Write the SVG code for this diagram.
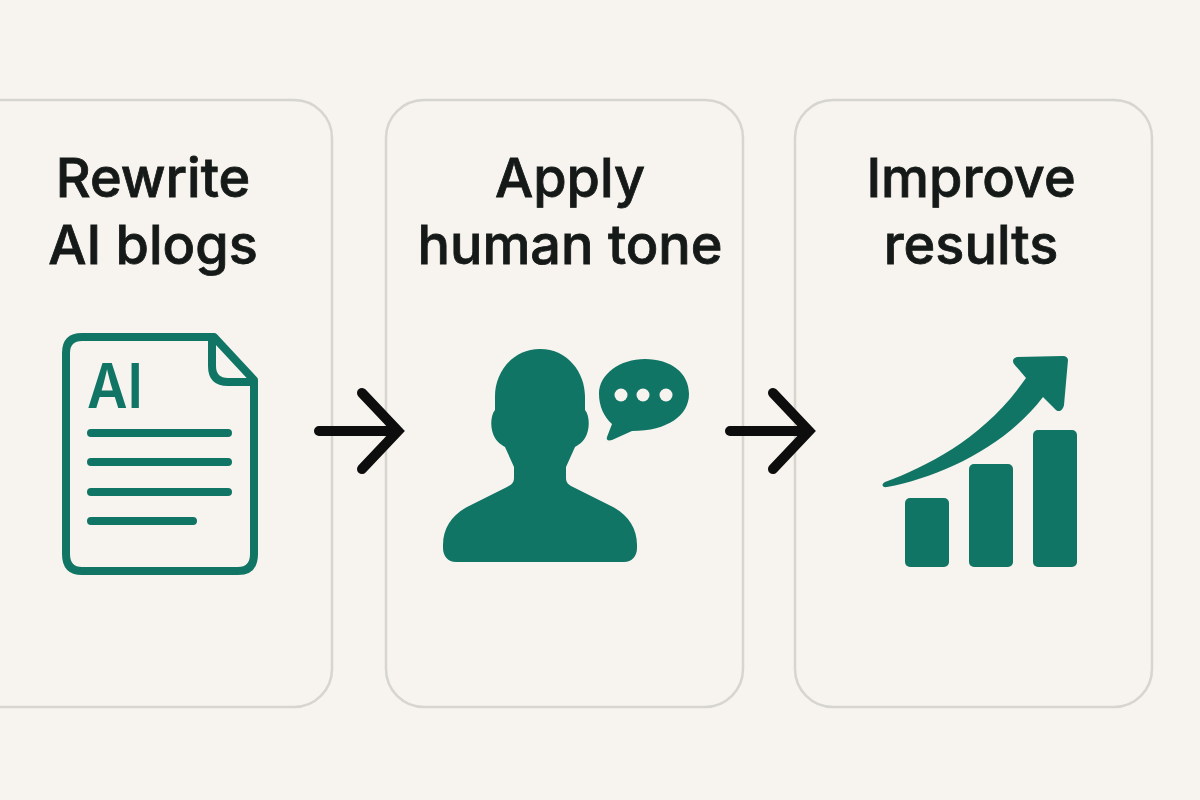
<svg xmlns="http://www.w3.org/2000/svg" width="1200" height="800" viewBox="0 0 1200 800">
<style>
.card{fill:none;stroke:#d6d5d0;stroke-width:2.5}
.t{font-family:Inter,"Liberation Sans",sans-serif;font-size:54px;font-weight:500;fill:#151a18;stroke:#151a18;stroke-width:.8;text-anchor:middle}
.g{fill:#117565}
.ol{fill:none;stroke:#117565;stroke-width:8;stroke-linecap:round;stroke-linejoin:round}
.ar{fill:none;stroke:#0d0d0d;stroke-width:10;stroke-linecap:round;stroke-linejoin:miter}
</style>
<rect width="1200" height="800" fill="#f7f3ee"/>
<g id="node-rewrite">
<rect class="card" x="-60" y="100" width="392" height="607" rx="38"/>
<text class="t" x="153" y="197">Rewrite</text>
<text class="t" x="153" y="264">AI blogs</text>
<path class="ol" d="M214 337H82Q66 337 66 353V554Q66 571 82 571H238Q254 571 254 554V380ZM212 337V366Q212 382 228 382H254"/>
<text x="87" y="408" font-family="Inter,'Liberation Sans',sans-serif" font-size="62" font-weight="600" fill="#117565" textLength="56" lengthAdjust="spacingAndGlyphs">AI</text>
<path class="ol" d="M91 433H228M91 462H228M91 492H228M91 521H193"/>
</g>
<g id="node-tone">
<rect class="card" x="386" y="100" width="357" height="607" rx="38"/>
<text class="t" x="570" y="197">Apply</text>
<text class="t" x="570" y="264">human tone</text>
<path class="g" d="M540 349C568 349 585 373 585 396V410C590 416 590 430 585 438C582 443 578 445 575 447L566 467V478C566 483 569 485 573 487L613 507C628 515 637 528 637 545V548C637 556 632 562 624 562H456C448 562 443 556 443 548V545C443 528 452 515 467 507L507 487C511 485 514 483 514 478V467L505 447C502 445 498 443 495 438C490 430 490 416 495 410V396C495 373 512 349 540 349Z"/>
<path class="g" d="M645 359C671 359 689 373 689 394C689 415 668 431 632 431L612 440C608 441 606 440 607 437L612 424C604 417 599 406 599 394C599 374 620 359 645 359Z"/>
<circle cx="621" cy="395" r="6.5" fill="#f7f3ee"/>
<circle cx="643" cy="395" r="6.5" fill="#f7f3ee"/>
<circle cx="666" cy="395" r="6.5" fill="#f7f3ee"/>
</g>
<g id="node-improve">
<rect class="card" x="795" y="100" width="357" height="607" rx="38"/>
<text class="t" x="971" y="197">Improve</text>
<text class="t" x="971" y="264">results</text>
<rect class="g" x="905" y="498" width="44" height="69" rx="5"/>
<rect class="g" x="969" y="464" width="44" height="103" rx="5"/>
<rect class="g" x="1033" y="430" width="44" height="137" rx="5"/>
<path class="g" d="M885 482C930 465 985 437 1026 378L1014 364C1012 361 1013 358 1017 357L1063 356C1066 356 1068 358 1068 360L1064 405C1063 411 1058 413 1055 409L1043 397C1005 447 940 477 887 487C882 488 881 484 885 482Z"/>
</g>
<g id="connectors">
<path class="ar" d="M319 431H396M362 393L398 431L362 469"/>
<path class="ar" d="M730 431H807M773 393L809 431L773 469"/>
</g>
</svg>
